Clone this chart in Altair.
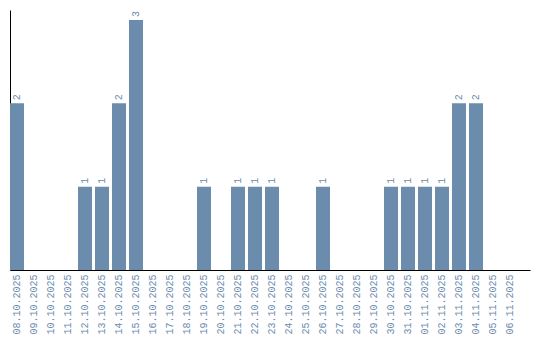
import altair as alt
import pandas as pd

dates = ["08.10.2025", "09.10.2025", "10.10.2025", "11.10.2025", "12.10.2025",
         "13.10.2025", "14.10.2025", "15.10.2025", "16.10.2025", "17.10.2025",
         "18.10.2025", "19.10.2025", "20.10.2025", "21.10.2025", "22.10.2025",
         "23.10.2025", "24.10.2025", "25.10.2025", "26.10.2025", "27.10.2025",
         "28.10.2025", "29.10.2025", "30.10.2025", "31.10.2025", "01.11.2025",
         "02.11.2025", "03.11.2025", "04.11.2025", "05.11.2025", "06.11.2025"]
counts = [2, 0, 0, 0, 1, 1, 2, 3, 0, 0, 0, 1, 0, 1, 1, 1, 0, 0, 1, 0, 0, 0,
          1, 1, 1, 1, 2, 2, 0, 0]

df = pd.DataFrame({"date": dates, "count": counts})
df["label"] = df["count"].apply(lambda v: str(v) if v > 0 else "")

COLOR = "#6b8cad"
FONT = "Liberation Mono"

x = alt.X("date:N", sort=dates, title=None,
          scale=alt.Scale(paddingInner=3/17, paddingOuter=0.382, align=0),
          axis=alt.Axis(labelAngle=-90, ticks=False, domainColor="black",
                        labelColor=COLOR, labelFont=FONT, labelFontSize=10,
                        labelPadding=4, labelAlign="right", labelBaseline="middle"))
y = alt.Y("count:Q", title=None,
          scale=alt.Scale(domain=[0, 3.12], nice=False),
          axis=alt.Axis(labels=False, ticks=False, grid=False, domainColor="black"))

bars = alt.Chart(df).mark_bar(color=COLOR).encode(x=x, y=y)
text = alt.Chart(df).mark_text(angle=270, align="left", baseline="middle",
                               dx=3, color=COLOR, font=FONT, fontSize=10).encode(
    x=alt.X("date:N", sort=dates), y="count:Q", text="label:N")

chart = (bars + text).properties(
    width=520, height=260,
    autosize=alt.AutoSizeParams(type="none"),
    padding={"left": 10, "top": 10, "right": 10, "bottom": 70},
    background="white",
).configure_view(stroke=None, strokeWidth=0)

chart.save("out.html", embed_options={"renderer": "svg", "actions": False})
